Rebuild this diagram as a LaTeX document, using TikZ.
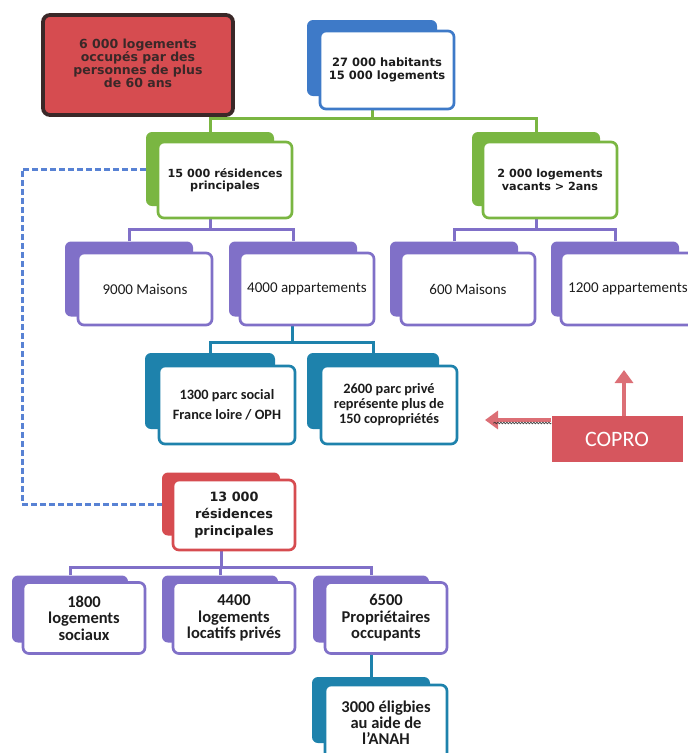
\documentclass[tikz,border=0pt]{standalone}
\usepackage{fontspec}
\setmainfont{Carlito}
\newfontfamily\wideface{DejaVu Sans}
\usepackage{tikz}
\usetikzlibrary{arrows.meta,positioning,backgrounds,decorations.pathmorphing}
\usepackage{xcolor}
\definecolor{cardblue}{RGB}{62,122,200}
\definecolor{cardgreen}{RGB}{122,182,66}
\definecolor{cardpurple}{RGB}{128,112,200}
\definecolor{cardteal}{RGB}{30,130,172}
\definecolor{cardred}{RGB}{214,76,80}
\definecolor{boxdark}{RGB}{58,40,40}
\definecolor{dashblue}{RGB}{88,130,212}
\definecolor{coprored}{RGB}{214,86,94}
\definecolor{inkgray}{RGB}{28,28,28}
\tikzset{
  back/.style   ={rectangle, rounded corners=6pt, inner sep=0pt},
  backB/.style  ={back, fill=cardblue},
  backG/.style  ={back, fill=cardgreen},
  backP/.style  ={back, fill=cardpurple},
  backT/.style  ={back, fill=cardteal},
  backR/.style  ={back, fill=cardred},
  card/.style   ={rectangle, rounded corners=6pt, fill=white, line width=2.7pt,
                  align=center, text=inkgray, inner sep=2pt},
  cardB/.style  ={card, draw=cardblue,   font=\wideface\bfseries\fontsize{11.5pt}{12.7pt}\selectfont},
  cardG/.style  ={card, draw=cardgreen,  font=\wideface\bfseries\fontsize{11.2pt}{12.5pt}\selectfont},
  cardP/.style  ={card, draw=cardpurple, font=\fontsize{15pt}{17pt}\selectfont},
  cardT/.style  ={card, draw=cardteal,   font=\bfseries\fontsize{14.3pt}{15pt}\selectfont},
  cardR/.style  ={card, draw=cardred,    font=\wideface\bfseries\fontsize{12.8pt}{17pt}\selectfont},
  cardQ/.style  ={card, draw=cardpurple, font=\bfseries\fontsize{16.5pt}{16.5pt}\selectfont},
  cardU/.style  ={card, draw=cardteal,   font=\bfseries\fontsize{16.5pt}{16pt}\selectfont},
  alert/.style  ={rectangle, rounded corners=7pt, fill=cardred, draw=boxdark, line width=3.8pt,
                  align=center, text=boxdark, font=\wideface\bfseries\fontsize{12.5pt}{12pt}\selectfont},
  copro/.style  ={rectangle, fill=coprored, text=white, font=\fontsize{22pt}{24pt}\selectfont},
  link/.style   ={line width=3pt},
  dashlink/.style={line width=3pt, draw=dashblue, dash pattern=on 6pt off 3pt},
  push/.style   ={-{Triangle[length=13pt,width=18pt]}, line width=4.5pt, draw=coprored!85!white},
}

\begin{document}
\begin{tikzpicture}[x=1pt,y=-1pt]
  \useasboundingbox (0,0) rectangle (688,753);

  \node[alert, minimum width=190pt, minimum height=100pt] (old) at (138,65)
    {\raisebox{5pt}{\begin{tabular}{@{}c@{}}6 000 logements\\[-0.5pt]occupés par des\\[-0.5pt]personnes de plus\\[-0.5pt]de 60 ans\end{tabular}}};

  \node[backB, minimum width=130pt, minimum height=76pt] (topb) at (372,58) {};
  \node[cardB, minimum width=134pt, minimum height=78pt] (top)  at (387,70) {27 000 habitants\\15 000 logements};

  \node[backG, minimum width=128pt, minimum height=74pt] (g1b) at (210,169) {};
  \node[cardG, minimum width=134pt, minimum height=76pt] (g1)  at (225,180) {15 000 résidences\\principales};
  \node[backG, minimum width=128pt, minimum height=74pt] (g2b) at (536,169) {};
  \node[cardG, minimum width=134pt, minimum height=76pt] (g2)  at (550,180) {2 000 logements\\vacants > 2ans};

  \node[backP, minimum width=128pt, minimum height=75pt] (p1b) at (129,279) {};
  \node[cardP, minimum width=134pt, minimum height=72pt] (p1)  at (145,289) {9000 Maisons};
  \node[backP, minimum width=128pt, minimum height=75pt] (p2b) at (293,279) {};
  \node[cardP, minimum width=134pt, minimum height=72pt] (p2)  at (307,289) {4000 appartements};
  \node[backP, minimum width=128pt, minimum height=75pt] (p3b) at (454,279) {};
  \node[cardP, minimum width=134pt, minimum height=72pt] (p3)  at (468,289) {600 Maisons};
  \node[backP, minimum width=128pt, minimum height=75pt] (p4b) at (615,279) {};
  \node[cardP, minimum width=134pt, minimum height=72pt] (p4)  at (628,289) {1200 appartements};

  \node[backT, minimum width=130pt, minimum height=76pt] (t1b) at (210,391) {};
  \node[cardT, minimum width=136pt, minimum height=78pt] (t1)  at (227,405) {1300 parc social\\[5pt]France loire / OPH};
  \node[backT, minimum width=132pt, minimum height=76pt] (t2b) at (373,391) {};
  \node[cardT, minimum width=136pt, minimum height=78pt] (t2)  at (389,405) {2600 parc privé\\représente plus de\\150 copropriétés};

  \node[copro, minimum width=131pt, minimum height=46pt] (copro) at (617,439) {COPRO};
  \coordinate (coproL) at (485,420);
  \coordinate (coproU) at (624,370);

  \node[backR, minimum width=118pt, minimum height=63pt] (r2b) at (221,504) {};
  \node[cardR, minimum width=122pt, minimum height=70pt] (r2)  at (234,515) {13 000\\résidences\\principales};

  \node[backP, minimum width=116pt, minimum height=67pt] (q1b) at (70,609) {};
  \node[cardQ, minimum width=122pt, minimum height=71pt] (q1)  at (84,618) {1800\\logements\\sociaux};
  \node[backP, minimum width=116pt, minimum height=67pt] (q2b) at (220,609) {};
  \node[cardQ, minimum width=122pt, minimum height=71pt] (q2)  at (234,618) {4400\\logements\\locatifs privés};
  \node[backP, minimum width=116pt, minimum height=67pt] (q3b) at (371,609) {};
  \node[cardQ, minimum width=122pt, minimum height=71pt] (q3)  at (386,618) {6500\\Propriétaires\\occupants};

  \node[backT, minimum width=118pt, minimum height=66pt] (t3b) at (371,710) {};
  \node[cardU, minimum width=122pt, minimum height=76pt] (t3)  at (386,723) {3000 éligbies\\au aide de\\l’ANAH};

  \coordinate (busG)  at (372,118);
  \coordinate (busP1) at (210,229);
  \coordinate (busP2) at (536,229);
  \coordinate (busT)  at (292,342);
  \coordinate (busQ)  at (221,567);
  \coordinate (dashL) at (22,0);

  \begin{scope}[on background layer]
    \draw[link, cardgreen] (topb.south) -- (busG);
    \draw[link, cardgreen] (g1b.north) |- (busG) -| (g2b.north);
    \draw[link, cardpurple] (g1b.south) -- (busP1);
    \draw[link, cardpurple] (p1b.north) |- (busP1) -| (p2b.north);
    \draw[link, cardpurple] (g2b.south) -- (busP2);
    \draw[link, cardpurple] (p3b.north) |- (busP2) -| (p4b.north);
    \draw[link, cardteal] (p2b.south -| busT) -- (busT);
    \draw[link, cardteal] (t1b.north) |- (busT) -| (t2b.north);
    \draw[link, cardpurple] (r2b.south) -- (busQ);
    \draw[link, cardpurple] (q1b.north) |- (busQ) -| (q3b.north);
    \draw[link, cardpurple] (q2b.north) -- (q2b.north |- busQ);
    \draw[link, cardteal] (q3b.south) -- (t3b.north);
    \draw[dashlink] (g1b.west) -| (dashL |- r2b.west) -- (r2b.west);
  \end{scope}

  \draw[push] (copro.north west |- coproL) -- (coproL);
  \draw[push] (copro.north -| coproU) -- (coproU);
  \draw[black!80, line width=0.6pt, decorate, decoration={snake, amplitude=0.9pt, segment length=3pt}]
    ([yshift=-3pt]copro.north west |- coproL) -- ([xshift=8pt,yshift=-3pt]coproL);
\end{tikzpicture}
\end{document}
